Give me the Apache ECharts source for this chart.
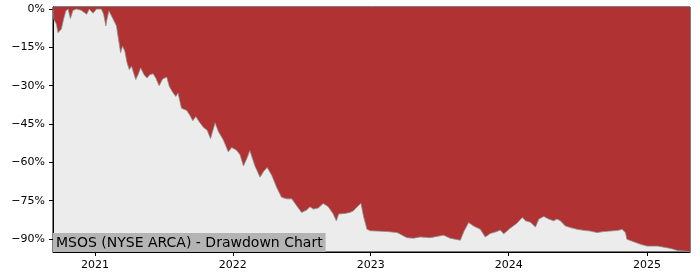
<!DOCTYPE html>
<html>
<head>
<meta charset="utf-8">
<script src="https://cdn.jsdelivr.net/npm/echarts@6/dist/echarts.min.js"></script>
<style>html,body{margin:0;padding:0;background:#fff}#c{width:700px;height:280px}</style>
</head>
<body>
<div id="c"></div>
<script>
const dates = [
"2020-09-12","2020-09-14","2020-09-21","2020-09-25","2020-10-04","2020-10-10","2020-10-16","2020-10-22","2020-10-28","2020-11-04",
"2020-11-13","2020-11-26","2020-12-01","2020-12-10","2020-12-17","2020-12-27","2021-01-05","2021-01-18","2021-01-24","2021-01-30",
"2021-02-02","2021-02-07","2021-02-11","2021-02-18","2021-02-27","2021-03-03","2021-03-10","2021-03-15","2021-03-21","2021-03-27",
"2021-04-02","2021-04-08","2021-04-19","2021-04-25","2021-05-02","2021-05-11","2021-05-19","2021-05-26","2021-06-04","2021-06-11",
"2021-06-20","2021-06-29","2021-07-10","2021-07-17","2021-07-26","2021-08-03","2021-08-09","2021-08-18","2021-09-01","2021-09-09",
"2021-09-17","2021-09-25","2021-10-04","2021-10-15","2021-10-25","2021-11-03","2021-11-15","2021-11-24","2021-12-07","2021-12-20",
"2021-12-29","2022-01-11","2022-01-20","2022-01-29","2022-02-07","2022-02-15","2022-02-28","2022-03-14","2022-03-24","2022-04-02",
"2022-04-14","2022-04-27","2022-05-10","2022-05-24","2022-06-06","2022-06-19","2022-07-02","2022-07-15","2022-07-24","2022-08-02",
"2022-08-15","2022-08-28","2022-09-10","2022-09-23","2022-10-02","2022-10-08","2022-10-25","2022-11-07","2022-11-16","2022-11-25",
"2022-12-06","2022-12-13","2022-12-22","2022-12-31","2023-01-18","2023-02-13","2023-03-12","2023-04-07","2023-04-24","2023-05-12",
"2023-06-07","2023-07-13","2023-07-30","2023-08-26","2023-09-05","2023-09-17","2023-09-30","2023-10-18","2023-10-31","2023-11-13",
"2023-12-01","2023-12-10","2023-12-19","2024-01-05","2024-01-23","2024-02-06","2024-02-15","2024-02-28","2024-03-12","2024-03-21",
"2024-04-03","2024-04-16","2024-04-29","2024-05-08","2024-05-17","2024-05-30","2024-06-12","2024-06-30","2024-07-17","2024-08-04",
"2024-08-22","2024-09-08","2024-09-26","2024-10-18","2024-10-27","2024-11-05","2024-11-09","2024-11-27","2024-12-15","2025-01-02",
"2025-01-29","2025-02-15","2025-03-05","2025-03-23","2025-04-10","2025-04-25"
];
const drawdown = [
0,-4.0,-5.9,-9.2,-7.9,-3.9,-0.7,0,-3.7,-0.5,
0,-0.5,0,-2.0,0,-1.6,0,0,-2.0,-6.6,
-3.9,-0.7,0,-3.9,-6.6,-10.5,-17.1,-14.5,-16.4,-21.0,
-23.7,-22.4,-27.6,-25.7,-23.0,-25.7,-27.0,-25.7,-25.3,-27.0,
-30.0,-27.4,-26.6,-30.3,-32.6,-34.2,-32.9,-38.8,-39.7,-41.5,
-43.7,-42.1,-44.1,-46.3,-47.4,-50.7,-44.5,-48.0,-51.3,-55.9,
-54.2,-55.3,-57.0,-61.4,-58.5,-55.4,-61.2,-65.8,-63.4,-62.0,
-65.1,-69.8,-73.7,-74.3,-74.3,-77.0,-79.6,-78.7,-77.4,-78.3,
-77.9,-76.1,-77.3,-80.0,-82.9,-80.2,-80.0,-79.6,-79.0,-77.6,
-76.0,-81.2,-86.2,-86.8,-86.9,-87.1,-87.5,-89.5,-89.7,-89.2,
-89.5,-88.5,-89.7,-90.5,-86.9,-83.6,-84.9,-86.2,-89.2,-87.9,
-87.1,-86.5,-88.0,-85.8,-83.8,-81.6,-82.9,-83.5,-85.3,-82.2,
-81.2,-82.2,-82.9,-82.2,-82.9,-84.9,-85.5,-86.2,-86.6,-86.9,
-87.5,-87.1,-86.9,-86.6,-86.2,-87.5,-90.1,-91.1,-92.1,-92.8,
-92.8,-93.2,-93.7,-94.5,-94.7,-95.0
];
const yTicks = [0,-15,-30,-45,-60,-75,-90];
const xTickYears = ["2021-01-01","2022-01-01","2023-01-01","2024-01-01","2025-01-01"];
const titleText = "MSOS (NYSE ARCA) - Drawdown Chart";

const toTs = s => Date.parse(s + "T00:00:00Z");
const seriesData = dates.map((d,i)=>[toTs(d), drawdown[i]]);
const xTickVals = xTickYears.map(toTs);
const font = "DejaVu Sans";

const chart = echarts.init(document.getElementById('c'), null, {renderer:'canvas'});
chart.setOption({
  animation:false,
  backgroundColor:'#ffffff',
  title:{
    text:titleText, left:53, top:233,
    padding:[3,3,2,3],
    backgroundColor:'#b4b4b4',
    textStyle:{fontFamily:font, fontSize:14, lineHeight:14, fontWeight:'normal', color:'#000'}
  },
  grid:{left:53, right:10, top:7, bottom:28, show:true, backgroundColor:'#ececec', borderColor:'#000', borderWidth:1, z:0},
  xAxis:{
    type:'value', min:seriesData[0][0], max:seriesData[seriesData.length-1][0],
    axisLine:{show:true, onZero:false, lineStyle:{color:'#000', width:1}},
    axisTick:{show:true, length:4, lineStyle:{color:'#000'}, customValues:xTickVals},
    axisLabel:{fontFamily:font, fontSize:11, color:'#000', margin:8, customValues:xTickVals,
      formatter:v=>String(new Date(v).getUTCFullYear())},
    splitLine:{show:false}
  },
  yAxis:{
    type:'value', min:-95.1, max:0.8,
    axisLine:{show:true, onZero:false, lineStyle:{color:'#000', width:1}},
    axisTick:{show:true, length:4, lineStyle:{color:'#000'}, customValues:yTicks},
    axisLabel:{fontFamily:font, fontSize:11, color:'#000', margin:8, customValues:yTicks,
      formatter:v=>(v<0?'\u2212'+Math.abs(v):String(v))+'%'},
    splitLine:{show:false}
  },
  series:[{
    type:'line', data:seriesData, showSymbol:false, symbol:'none',
    lineStyle:{color:'#8e8e8e', width:0.8},
    areaStyle:{color:'#b03232', opacity:1, origin:'end'},
    z:2
  }]
});
</script>
</body>
</html>
